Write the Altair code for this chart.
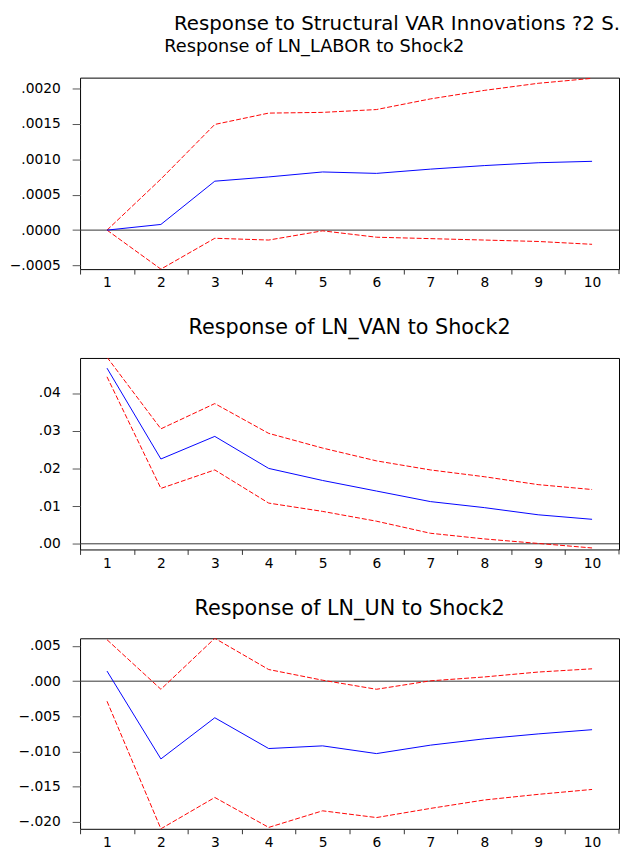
import altair as alt
import pandas as pd

periods = [1, 2, 3, 4, 5, 6, 7, 8, 9, 10]

labor_resp = [0.0, 0.00008, 0.00069, 0.00075, 0.00082, 0.00080, 0.00086, 0.00091, 0.00095, 0.00097]
labor_upper = [0.0, 0.00072, 0.00149, 0.00165, 0.00166, 0.00170, 0.00185, 0.00197, 0.00207, 0.00214]
labor_lower = [0.0, -0.00055, -0.000115, -0.00014, -0.00001, -0.00010, -0.00012, -0.00014, -0.00016, -0.00020]

van_resp = [0.0466, 0.0225, 0.0285, 0.0200, 0.0168, 0.0140, 0.0112, 0.0096, 0.0077, 0.0065]
van_upper = [0.0495, 0.0305, 0.0372, 0.0293, 0.0254, 0.0220, 0.0196, 0.0178, 0.0157, 0.0144]
van_lower = [0.0443, 0.0147, 0.0196, 0.0108, 0.0086, 0.0060, 0.0028, 0.0013, 0.0001, -0.0011]

un_resp = [0.00144, -0.01106, -0.0052, -0.00958, -0.0092, -0.0103, -0.0091, -0.0082, -0.0075, -0.0069]
un_upper = [0.0059, -0.00115, 0.0061, 0.00166, 0.00014, -0.00115, 0.00005, 0.0006, 0.0013, 0.00176]
un_lower = [-0.00285, -0.0210, -0.01654, -0.0208, -0.01844, -0.0194, -0.0181, -0.0169, -0.0161, -0.0154]

main_title = "Response to Structural VAR Innovations ?2 S."
panel_titles = ["Response of LN_LABOR to Shock2", "Response of LN_VAN to Shock2", "Response of LN_UN to Shock2"]

y_domains = [[-0.00055, 0.00215], [-0.0015, 0.0493], [-0.0210, 0.0061]]
y_ticks = [[-0.0005, 0.0, 0.0005, 0.0010, 0.0015, 0.0020],
           [0.0, 0.01, 0.02, 0.03, 0.04],
           [-0.020, -0.015, -0.010, -0.005, 0.0, 0.005]]
y_formats = [".4f", ".2f", ".3f"]
x_tick_values = [0.5, 1.5, 2.5, 3.5, 4.5, 5.5, 6.5, 7.5, 8.5, 9.5]
x_last_edge = 10.5

FONT = "DejaVu Sans"
W = 546
heights = [194, 194, 193]


def panel(i, resp, upper, lower, title_size, title_offset, title_frame):
    h = heights[i]
    df = pd.DataFrame({"period": periods * 3,
                       "value": resp + upper + lower,
                       "series": ["resp"] * 10 + ["upper"] * 10 + ["lower"] * 10})
    yscale = alt.Scale(domain=y_domains[i], nice=False, zero=False)
    xscale = alt.Scale(domain=[0.5, 10.5], nice=False, zero=False)
    xaxis = alt.Axis(values=x_tick_values, grid=False, domain=False,
                     tickSize=5, tickColor="#333333",
                     labelExpr="format(datum.value + 0.5, 'd')",
                     labelOffset=W / 20, labelOverlap=False, labelBound=False, labelFlush=False,
                     labelFont=FONT, labelFontSize=14, labelColor="black", labelPadding=2)
    yaxis = alt.Axis(values=y_ticks[i], grid=False, domain=False,
                     tickSize=8, tickColor="#555555", labelOverlap=False,
                     labelExpr="replace(format(datum.value, '%s'), '0.', '.')" % y_formats[i],
                     labelFont=FONT, labelFontSize=14, labelColor="black", labelPadding=12,
                     minExtent=72, maxExtent=72)
    x = alt.X("period:Q", scale=xscale, title=None, axis=xaxis)
    y = alt.Y("value:Q", scale=yscale, title=None, axis=yaxis)
    base = alt.Chart(df)
    zero = alt.Chart(pd.DataFrame({"z": [0.0]})).mark_rule(color="#333333", strokeWidth=1).encode(
        y=alt.Y("z:Q", scale=yscale, title=None, axis=yaxis))
    edge_tick = alt.Chart(pd.DataFrame({"e": [x_last_edge]})).mark_rule(
        color="#333333", strokeWidth=1).encode(
        x=alt.X("e:Q", scale=xscale, title=None, axis=xaxis),
        y=alt.value(h), y2=alt.value(h + 5))
    bands = base.transform_filter("datum.series != 'resp'").mark_line(
        color="#ff0000", strokeWidth=1, strokeDash=[5, 2], clip=True).encode(
        x=x, y=y, detail="series:N")
    center = base.transform_filter("datum.series == 'resp'").mark_line(
        color="#0000ff", strokeWidth=1, clip=True).encode(x=x, y=y)
    return alt.layer(zero, edge_tick, bands, center).properties(
        width=W, height=h,
        title=alt.Title(panel_titles[i], font=FONT, fontSize=title_size, fontWeight="normal",
                        color="black", offset=title_offset, frame=title_frame, anchor="middle"))


p1 = panel(0, labor_resp, labor_upper, labor_lower, 18, 22, "bounds")
p2 = panel(1, van_resp, van_upper, van_lower, 21, 20, "group")
p3 = panel(2, un_resp, un_upper, un_lower, 21, 20, "group")

chart = alt.vconcat(p1, p2, p3, spacing=26).properties(
    padding=0,
    title=alt.Title(main_title, font=FONT, fontSize=20, fontWeight="normal", color="black",
                    anchor="end", offset=4)
).configure_view(stroke="black", strokeWidth=1)

chart.save("out.html", embed_options={"renderer": "svg", "actions": False})
